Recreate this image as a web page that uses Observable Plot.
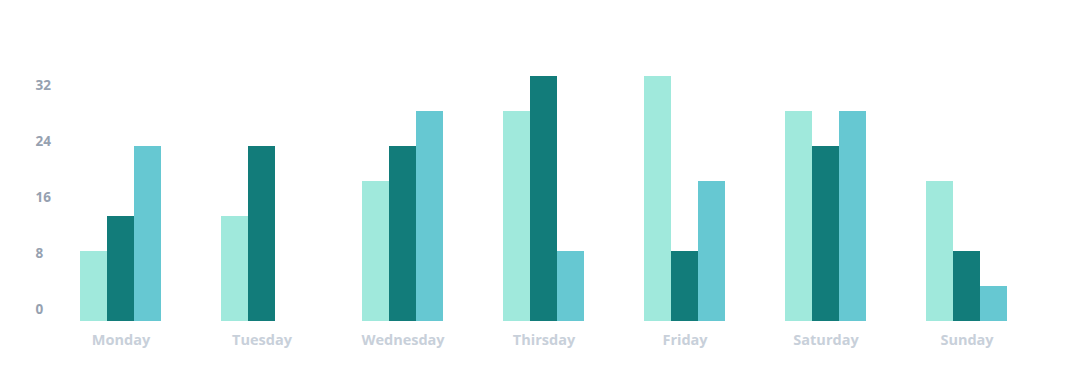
<!DOCTYPE html>
<html><head><meta charset="utf-8">
<script src="https://cdn.jsdelivr.net/npm/d3@7"></script>
<script src="https://cdn.jsdelivr.net/npm/@observablehq/plot@0.6"></script>
<style>body{margin:0;background:#fff}</style>
</head><body><div id="chart"></div>
<script>
const days = ["Monday","Tuesday","Wednesday","Thirsday","Friday","Saturday","Sunday"];
const seriesNames = ["Series A","Series B","Series C"];
const seriesA = [10,15,20,30,35,30,20];
const seriesB = [15,25,25,35,10,25,10];
const seriesC = [25,0,30,10,20,30,5];
const yTicks = [0,8,16,24,32];
const colors = ["#a0e9dc","#127c7a","#66c8d2"];

const allSeries = [seriesA, seriesB, seriesC];
const data = days.flatMap((d, i) => seriesNames.map((s, j) => ({day: d, series: s, value: allSeries[j][i]})));

const chart = Plot.plot({
  width: 1071,
  height: 385,
  marginLeft: 50,
  marginRight: 34,
  marginTop: 76,
  marginBottom: 64,
  style: {fontFamily: "'Open Sans', sans-serif", background: "#fff"},
  fx: {domain: days, paddingInner: 60/141, paddingOuter: 30/141, label: null},
  x: {domain: seriesNames, padding: 0, axis: null},
  y: {domain: [0, 35], axis: null},
  color: {domain: seriesNames, range: colors},
  marks: [
    Plot.barY(data, {fx: "day", x: "series", y: "value", fill: "series"}),
    Plot.axisY({ticks: yTicks, tickSize: 0, tickPadding: 45, textAnchor: "start", dy: -11.5,
      fontSize: 13.5, fontWeight: 700, color: "#96a1b0", label: null}),
    Plot.axisFx({anchor: "bottom", tickSize: 0, tickPadding: 13, fontSize: 14.5, fontWeight: 700,
      color: "#c8d0da", label: null})
  ]
});
document.getElementById("chart").appendChild(chart);
</script>
</body></html>
